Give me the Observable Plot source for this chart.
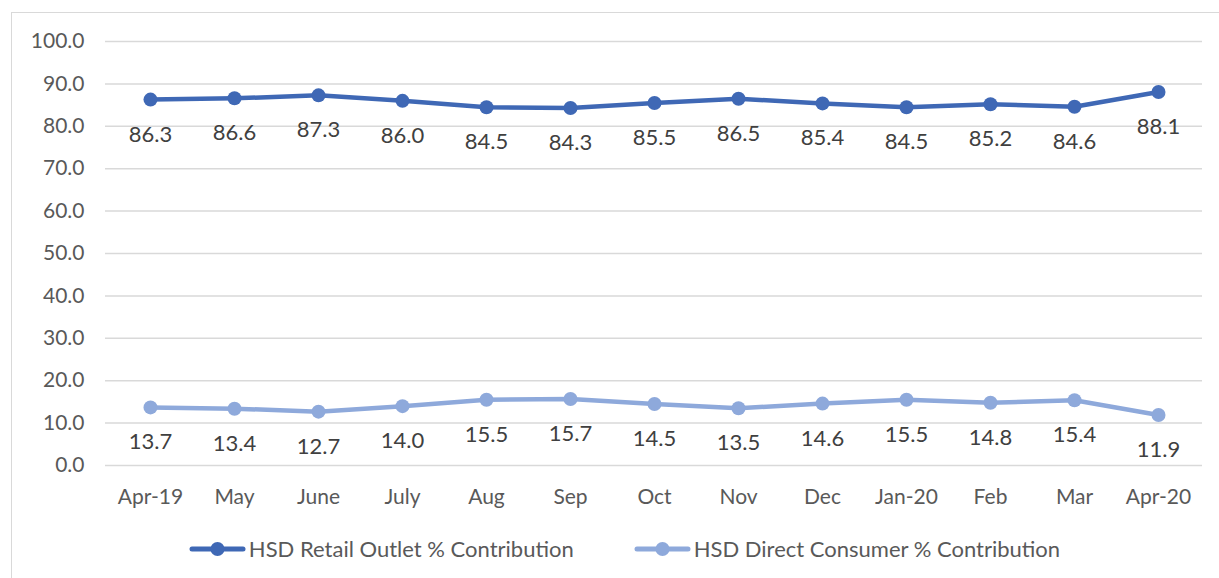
<!DOCTYPE html>
<html>
<head>
<meta charset="utf-8">
<script src="https://cdn.jsdelivr.net/npm/d3@7"></script>
<script src="https://cdn.jsdelivr.net/npm/@observablehq/plot@0.6"></script>
<style>
  html, body { margin: 0; padding: 0; background: #fff; }
  body { width: 1219px; height: 578px; position: relative; overflow: hidden; font-family: Lato, "Open Sans", sans-serif; }
  #frame { position: absolute; left: 11px; top: 12px; width: 1240px; height: 600px; border: 1.5px solid #d9d9d9; box-sizing: border-box; }
  #chart { position: absolute; left: 0; top: 0; }
  #legend { position: absolute; top: 535px; left: 0; width: 1219px; display: flex; justify-content: center; gap: 60px; font-size: 22px; color: #595959; padding-left: 30px; box-sizing: border-box; }
  .item { display: flex; align-items: center; }
  .item svg { margin-right: 3px; }
</style>
</head>
<body>
<div id="frame"></div>
<div id="chart"></div>
<div id="legend"></div>
<script>
const months = ["Apr-19","May","June","July","Aug","Sep","Oct","Nov","Dec","Jan-20","Feb","Mar","Apr-20"];
const retail = [86.3,86.6,87.3,86.0,84.5,84.3,85.5,86.5,85.4,84.5,85.2,84.6,88.1];
const direct = [13.7,13.4,12.7,14.0,15.5,15.7,14.5,13.5,14.6,15.5,14.8,15.4,11.9];
const yTicks = [0,10,20,30,40,50,60,70,80,90,100];
const seriesNames = ["HSD Retail Outlet % Contribution","HSD Direct Consumer % Contribution"];
const colors = ["#3F68B5","#8EA9DB"];

const data = [];
months.forEach((m,i) => {
  data.push({month: m, value: retail[i], series: seriesNames[0]});
  data.push({month: m, value: direct[i], series: seriesNames[1]});
});

const fmt = d3.format(".1f");

const chart = Plot.plot({
  width: 1219,
  height: 520,
  marginLeft: 105,
  marginRight: 17,
  marginTop: 41,
  marginBottom: 55,
  style: { fontFamily: "Lato, 'Open Sans', sans-serif", fontSize: "21px", color: "#595959", background: "transparent", overflow: "visible" },
  x: { type: "point", domain: months, padding: 0.5, label: null, tickSize: 0, tickPadding: 24 },
  y: { domain: [0,100], ticks: yTicks, tickFormat: fmt, label: null, tickSize: 0, tickPadding: 21 },
  color: { domain: seriesNames, range: colors },
  marks: [
    Plot.ruleY(yTicks, { stroke: "#d9d9d9", strokeWidth: 1.5 }),
    Plot.line(data, { x: "month", y: "value", z: "series", stroke: "series", strokeWidth: 4.5, curve: "linear" }),
    Plot.dot(data, { x: "month", y: "value", fill: "series", r: 7, stroke: null }),
    Plot.text(data, { x: "month", y: "value", text: d => fmt(d.value), dy: 35, fill: "#404040", fontSize: 22 })
  ]
});
document.getElementById("chart").appendChild(chart);

const legend = document.getElementById("legend");
seriesNames.forEach((name, i) => {
  const item = document.createElement("div");
  item.className = "item";
  item.innerHTML = `<svg width="57" height="20"><line x1="3" y1="10" x2="54" y2="10" stroke="${colors[i]}" stroke-width="5" stroke-linecap="round"/><circle cx="28.5" cy="10" r="7" fill="${colors[i]}"/></svg><span>${name}</span>`;
  legend.appendChild(item);
});
</script>
</body>
</html>
